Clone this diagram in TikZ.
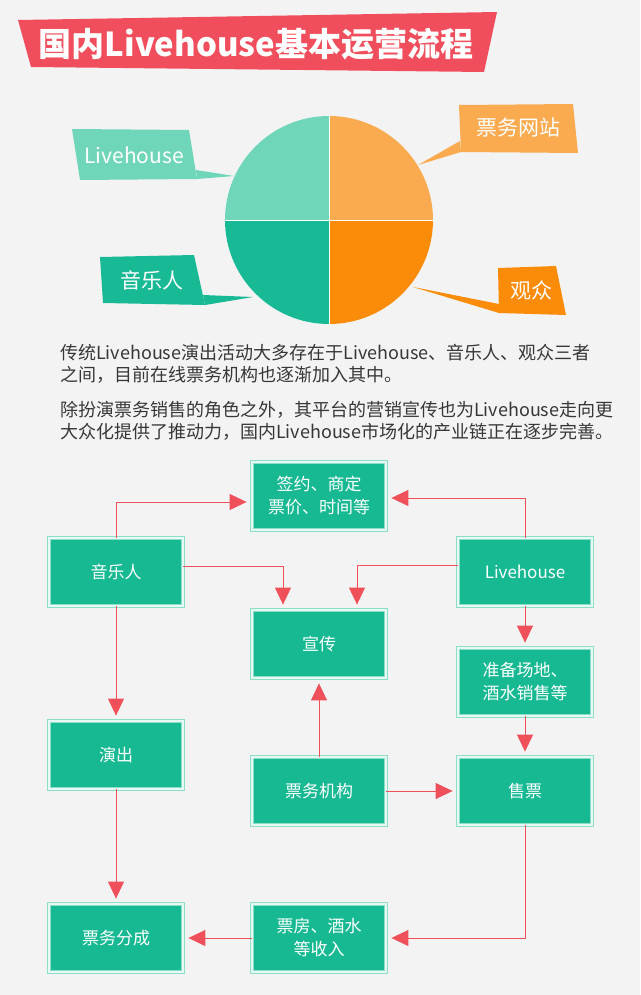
\documentclass[tikz,border=0pt]{standalone}
\usepackage{fontspec}
\setmainfont{Noto Sans CJK SC}
\usetikzlibrary{arrows.meta}
\definecolor{bgcol}{RGB}{244,243,243}
\definecolor{titlered}{RGB}{240,78,92}
\definecolor{pieLT}{RGB}{112,214,185}
\definecolor{pieLB}{RGB}{24,186,150}
\definecolor{pieRT}{RGB}{250,171,80}
\definecolor{pieRB}{RGB}{251,140,10}
\definecolor{boxfill}{RGB}{22,185,146}
\definecolor{boxline}{RGB}{140,222,198}
\definecolor{linecol}{RGB}{240,80,90}
\definecolor{textgray}{RGB}{55,55,55}
\tikzset{
  stepbox/.style={fill=boxfill, draw=boxline, double=white!80!boxline, double distance=1.6pt,
    line width=0.8pt, minimum width=134pt, minimum height=68pt, inner sep=0pt,
    text=white, align=center, font=\fontsize{17}{23}\selectfont},
  flow/.style={draw=linecol, line width=1pt, -{Triangle[length=17pt,width=16pt]}, shorten >=5pt},
  pielabel/.style={text=white, font=\fontsize{21}{21}\selectfont},
  para/.style={anchor=west, text=textgray, inner sep=0pt, font=\fontsize{18}{22}\selectfont}
}
\begin{document}
\begin{tikzpicture}[x=1pt,y=-1pt]
\fill[bgcol] (0,0) rectangle (640,995);
\useasboundingbox (0,0) rectangle (640,995);

% title
\fill[titlered] (18,20) -- (497,12) -- (484,72) -- (31,67) -- cycle;
\node[text=white, font=\fontsize{33}{33}\selectfont\bfseries] (title) at (256,44) {国内Livehouse基本运营流程};

% pie with labels
\coordinate (pieC) at (329,220);
\fill[pieLT] (72,129) -- (189,130) -- (197,179) -- (80,180) -- cycle;
\fill[pieLT] (196,170) -- (197,179) -- (234,176) -- cycle;
\node[pielabel] (lblLive) at (134,155) {Livehouse};
\fill[pieRT] (459,105) -- (573,104) -- (578,153) -- (461,152) -- cycle;
\fill[pieRT] (460,141) -- (461,152) -- (418,165) -- cycle;
\node[pielabel] (lblSite) at (518,128) {票务网站};
\fill[pieLB] (100,257) -- (194,255) -- (205,305) -- (103,303) -- cycle;
\fill[pieLB] (203,295) -- (205,305) -- (253,297) -- cycle;
\node[pielabel] (lblMusic) at (152,280) {音乐人};
\fill[pieRB] (498,268) -- (556,266) -- (566,315) -- (499,313) -- cycle;
\fill[pieRB] (413,287) -- (499,304) -- (499,313) -- cycle;
\node[pielabel] (lblAud) at (531,290) {观众};

\fill[pieLT] (pieC) -- ++(-104,0) arc[start angle=180, end angle=270, radius=104] -- cycle;
\fill[pieRT] (pieC) -- ++(0,-104) arc[start angle=270, end angle=360, radius=104] -- cycle;
\fill[pieRB] (pieC) -- ++(104,0) arc[start angle=0, end angle=90, radius=104] -- cycle;
\fill[pieLB] (pieC) -- ++(0,104) arc[start angle=90, end angle=180, radius=104] -- cycle;
\draw[white, line width=1pt] (pieC) ++(-104,0) -- ++(208,0) (pieC) ++(0,-104) -- ++(0,208);

% text
\node[para] (p1) at (60,353) {传统Livehouse演出活动大多存在于Livehouse、音乐人、观众三者};
\node[para] (p2) at (60,375) {之间，目前在线票务机构也逐渐加入其中。};
\node[para] (p3) at (60,410) {除扮演票务销售的角色之外，其平台的营销宣传也为Livehouse走向更};
\node[para] (p4) at (60,432) {大众化提供了推动力，国内Livehouse市场化的产业链正在逐步完善。};

% flow chart
\node[stepbox] (sign) at (319,496) {签约、商定\\票价、时间等};
\node[stepbox] (musician) at (116,572) {音乐人};
\node[stepbox] (live) at (525,572) {Livehouse};
\node[stepbox] (promo) at (319,644) {宣传};
\node[stepbox] (prep) at (525,682) {准备场地、\\酒水销售等};
\node[stepbox] (show) at (116,755) {演出};
\node[stepbox] (agency) at (319,791) {票务机构};
\node[stepbox] (sale) at (525,791) {售票};
\node[stepbox] (split) at (116,938) {票务分成};
\node[stepbox] (income) at (319,938) {票房、酒水\\等收入};

\draw[flow] (musician.north) |- ([yshift=-6pt]sign.west);
\draw[flow] (live.north) |- ([yshift=-2pt]sign.east);
\draw[flow] ([yshift=6pt]musician.east) -| ([xshift=-36pt]promo.north);
\draw[flow] ([yshift=7pt]live.west) -| ([xshift=38pt]promo.north);
\draw[flow] (musician) -- (show);
\draw[flow] (live) -- (prep);
\draw[flow] (prep) -- (sale);
\draw[flow] (agency) -- (promo);
\draw[flow] (agency) -- (sale);
\draw[flow] (show) -- (split);
\draw[flow] (sale.south) |- (income.east);
\draw[flow] (income) -- (split);
\end{tikzpicture}
\end{document}
